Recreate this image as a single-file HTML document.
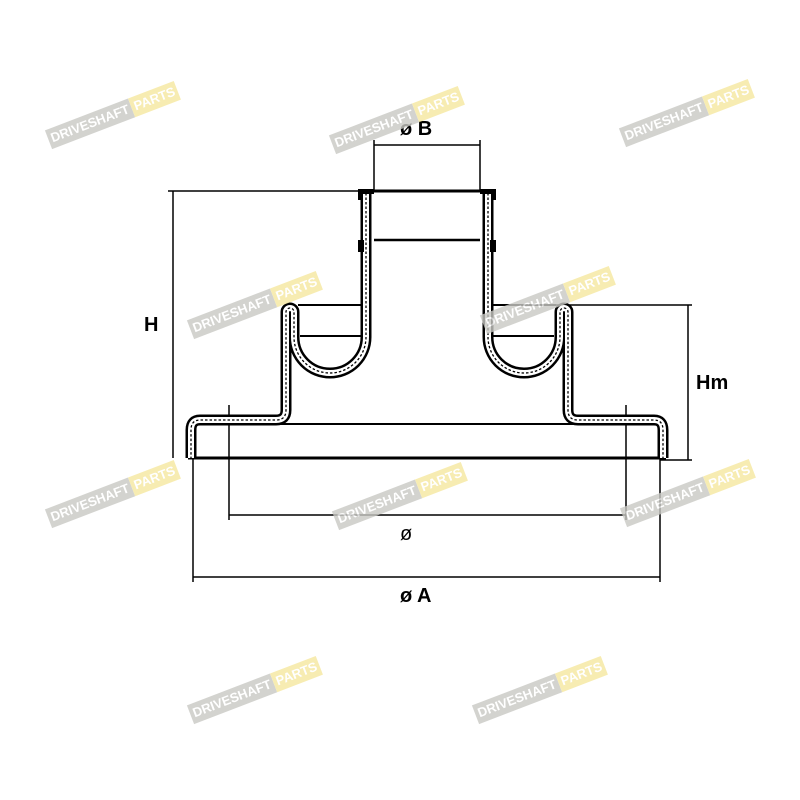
<!DOCTYPE html>
<html><head><style>
body{margin:0;background:#fff}
.wm{position:absolute;display:flex;height:20px;transform:translate(-50%,-50%) rotate(-21deg);opacity:.8;font-family:"Liberation Sans",sans-serif;font-weight:bold;font-size:13px;color:#fff;line-height:20px;white-space:nowrap}
.wm span{padding:0 3px}
.wm .a{background:#c9c9c4}
.wm .b{background:#f6e8a0}
</style></head><body>
<div style="position:relative;width:800px;height:800px;overflow:hidden">
<svg width="800" height="800" style="position:absolute;left:0;top:0" font-family="Liberation Sans, sans-serif">
<g fill="none" stroke="#000" stroke-width="1.5">
<line x1="173" y1="191" x2="173" y2="458"/>
<line x1="168" y1="191" x2="360" y2="191"/>
<line x1="688" y1="305" x2="688" y2="460"/>
<line x1="555" y1="305" x2="692" y2="305"/>
<line x1="660" y1="460" x2="692" y2="460"/>
<line x1="374" y1="140" x2="374" y2="191"/>
<line x1="480" y1="140" x2="480" y2="191"/>
<line x1="374" y1="145" x2="480" y2="145"/>
<line x1="229" y1="405" x2="229" y2="520"/>
<line x1="626" y1="405" x2="626" y2="520"/>
<line x1="229" y1="515" x2="626" y2="515"/>
<line x1="193" y1="440" x2="193" y2="582"/>
<line x1="660" y1="440" x2="660" y2="582"/>
<line x1="193" y1="577" x2="660" y2="577"/>
<line x1="374" y1="191" x2="480" y2="191" stroke-width="3"/>
<line x1="374" y1="240" x2="480" y2="240" stroke-width="2.5"/>
<line x1="298" y1="305" x2="362" y2="305" stroke-width="2"/>
<line x1="300" y1="336" x2="362" y2="336" stroke-width="2"/>
<line x1="492" y1="305" x2="556" y2="305" stroke-width="2"/>
<line x1="492" y1="336" x2="554" y2="336" stroke-width="2"/>
<line x1="280" y1="424" x2="575" y2="424" stroke-width="2"/>
<line x1="188" y1="458" x2="666" y2="458" stroke-width="3"/>
</g>
<defs>
<path id="L" d="M366,193 V337 A36,36 0 0 1 294,337 V312 A4,4 0 0 0 286,312 V410 Q286,420 276,420 H200 Q191,420 191,430 V458"/>
</defs>
<g fill="none">
<use href="#L" stroke="#000" stroke-width="11"/>
<use href="#L" stroke="#fff" stroke-width="6"/>
<use href="#L" stroke="#000" stroke-width="1.3" stroke-dasharray="2.5 2"/>
<g transform="translate(854,0) scale(-1,1)">
<use href="#L" stroke="#000" stroke-width="11"/>
<use href="#L" stroke="#fff" stroke-width="6"/>
<use href="#L" stroke="#000" stroke-width="1.3" stroke-dasharray="2.5 2"/>
</g>
</g>
<g fill="#000">
<rect x="358" y="189" width="16" height="5"/><rect x="480" y="189" width="16" height="5"/>
<rect x="358" y="240" width="6" height="12"/><rect x="490" y="240" width="6" height="12"/>
<rect x="358" y="189" width="4" height="11"/><rect x="492" y="189" width="4" height="11"/>
</g>
<g font-size="20" font-weight="bold" fill="#000">
<text x="400" y="135">ø B</text>
<text x="144" y="331">H</text>
<text x="696" y="389">Hm</text>
<text x="400" y="540" font-weight="normal">ø</text>
<text x="400" y="602">ø A</text>
</g>
</svg>
<div class="wm" style="left:113px;top:115px"><span class="a">DRIVESHAFT</span><span class="b">PARTS</span></div>
<div class="wm" style="left:397px;top:120px"><span class="a">DRIVESHAFT</span><span class="b">PARTS</span></div>
<div class="wm" style="left:687px;top:113px"><span class="a">DRIVESHAFT</span><span class="b">PARTS</span></div>
<div class="wm" style="left:255px;top:305px"><span class="a">DRIVESHAFT</span><span class="b">PARTS</span></div>
<div class="wm" style="left:548px;top:300px"><span class="a">DRIVESHAFT</span><span class="b">PARTS</span></div>
<div class="wm" style="left:113px;top:494px"><span class="a">DRIVESHAFT</span><span class="b">PARTS</span></div>
<div class="wm" style="left:400px;top:496px"><span class="a">DRIVESHAFT</span><span class="b">PARTS</span></div>
<div class="wm" style="left:688px;top:493px"><span class="a">DRIVESHAFT</span><span class="b">PARTS</span></div>
<div class="wm" style="left:255px;top:690px"><span class="a">DRIVESHAFT</span><span class="b">PARTS</span></div>
<div class="wm" style="left:540px;top:690px"><span class="a">DRIVESHAFT</span><span class="b">PARTS</span></div>
</div>
</body></html>
